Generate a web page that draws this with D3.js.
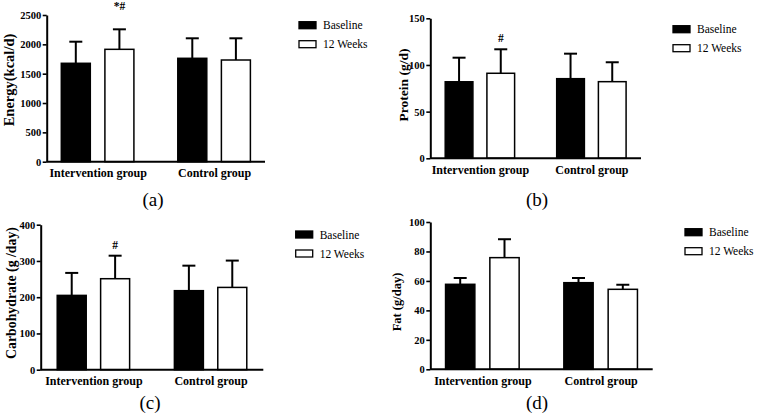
<!DOCTYPE html>
<html><head><meta charset="utf-8">
<script src="https://cdn.jsdelivr.net/npm/d3@7"></script>
<style>body{margin:0;background:#fff}svg{display:block}</style>
</head><body><svg id="c" width="762" height="414"></svg>
<script>
const categories = ["Intervention group", "Control group"];
const seriesNames = ["Baseline", "12 Weeks"];

const energyBaseline = [1677, 1762], energyBaselineSD = [368, 341];
const energyWeeks = [1915, 1733], energyWeeksSD = [341, 370];
const energyTicks = [0, 500, 1000, 1500, 2000, 2500];

const proteinBaseline = [82.0, 85.3], proteinBaselineSD = [25.8, 26.8];
const proteinWeeks = [91.1, 82.1], proteinWeeksSD = [25.7, 20.8];
const proteinTicks = [0, 50, 100, 150];

const carbBaseline = [205, 218], carbBaselineSD = [62, 69];
const carbWeeks = [251, 227], carbWeeksSD = [63.5, 74];
const carbTicks = [0, 100, 200, 300, 400];

const fatBaseline = [57.7, 58.8], fatBaselineSD = [4.3, 3.2];
const fatWeeks = [75.8, 54.3], fatWeeksSD = [12.5, 3.1];
const fatTicks = [0, 20, 40, 60, 80, 100];

const panels = [
  {label:"(a)", ylab:"Energy(kcal/d)", ticks:energyTicks, base:energyBaseline, baseSD:energyBaselineSD, wk:energyWeeks, wkSD:energyWeeksSD, mark:"*#", markOff:19,
   L:46.7, R:265, T:15, B:161.7, pad:0.437, inner:72.6, bw:29, ylx:9, yly:80, ylfs:14.5, legX:299, legY:21.7, labX:153, labY:206},
  {label:"(b)", ylab:"Protein (g/d)", ticks:proteinTicks, base:proteinBaseline, baseSD:proteinBaselineSD, wk:proteinWeeks, wkSD:proteinWeeksSD, mark:"#", markOff:7.6,
   L:430.3, R:641, T:18.3, B:158.3, pad:0.445, inner:69.4, bw:27.7, ylx:403, yly:85, ylfs:13.5, legX:673, legY:25.7, labX:537, labY:206},
  {label:"(c)", ylab:"Carbohydrate (g /day)", ticks:carbTicks, base:carbBaseline, baseSD:carbBaselineSD, wk:carbWeeks, wkSD:carbWeeksSD, mark:"#", markOff:7,
   L:40.7, R:263.3, T:224.7, B:369.7, pad:0.45, inner:72.4, bw:29, ylx:11, yly:293, ylfs:13.8, legX:295.7, legY:231, labX:150, labY:409},
  {label:"(d)", ylab:"Fat (g/day)", ticks:fatTicks, base:fatBaseline, baseSD:fatBaselineSD, wk:fatWeeks, wkSD:fatWeeksSD, mark:null, markOff:0,
   L:430.3, R:652.7, T:222, B:369.3, pad:0.44, inner:73.6, bw:29.3, ylx:397, yly:302, ylfs:12.5, legX:685, legY:228.7, labX:537, labY:409}
];

const svg = d3.select("#c");
const serif = "'Liberation Serif','Times New Roman',serif";

panels.forEach(p => {
  const g = svg.append("g");
  const y = d3.scaleLinear().domain([0, d3.max(p.ticks)]).range([p.B, p.T]);
  const x = d3.scalePoint().domain(categories).range([p.L, p.R]).padding(p.pad);
  const step = p.inner - p.bw;
  const pi = 1 - p.bw / step;
  const xi = d3.scaleBand().domain(seriesNames).range([-p.inner/2, p.inner/2]).paddingInner(pi).paddingOuter(0);

  const rows = [];
  categories.forEach((c, i) => {
    rows.push({cat:c, s:"Baseline", v:p.base[i], sd:p.baseSD[i]});
    rows.push({cat:c, s:"12 Weeks", v:p.wk[i], sd:p.wkSD[i]});
  });

  const eb = g.append("g").attr("stroke", "#000").attr("stroke-width", 2).attr("fill", "none");
  rows.forEach(r => {
    const cx = x(r.cat) + xi(r.s) + xi.bandwidth()/2;
    eb.append("line").attr("x1", cx).attr("x2", cx).attr("y1", y(r.v)).attr("y2", y(r.v + r.sd));
    eb.append("line").attr("x1", cx - 6.5).attr("x2", cx + 6.5).attr("y1", y(r.v + r.sd)).attr("y2", y(r.v + r.sd));
  });

  g.append("g").selectAll("rect").data(rows).join("rect")
    .attr("x", d => x(d.cat) + xi(d.s))
    .attr("width", xi.bandwidth())
    .attr("y", d => y(d.v))
    .attr("height", d => y(0) - y(d.v))
    .attr("fill", d => d.s === "Baseline" ? "#000" : "#fff")
    .attr("stroke", "#000").attr("stroke-width", 1.5);

  const ya = g.append("g").attr("transform", `translate(${p.L},0)`)
    .call(d3.axisLeft(y).tickValues(p.ticks).tickFormat(d3.format("d")).tickSize(4).tickSizeOuter(0).tickPadding(1.5));
  ya.select(".domain").attr("stroke-width", 2);
  ya.selectAll(".tick line").attr("stroke-width", 1.6);
  ya.selectAll(".tick text").attr("font-family", serif).attr("font-weight", "bold").attr("font-size", 10.5).attr("fill", "#000");

  const xa = g.append("g").attr("transform", `translate(0,${p.B})`)
    .call(d3.axisBottom(x).tickSize(0).tickPadding(7));
  xa.select(".domain").attr("stroke-width", 2).attr("d", `M${p.L},0H${p.R}`);
  xa.selectAll(".tick text").attr("font-family", serif).attr("font-weight", "bold").attr("font-size", 12).attr("fill", "#000");

  g.append("text").attr("transform", `translate(${p.ylx},${p.yly}) rotate(-90)`)
    .attr("text-anchor", "middle").attr("dominant-baseline", "central")
    .attr("font-family", serif).attr("font-weight", "bold").attr("font-size", p.ylfs).text(p.ylab);

  if (p.mark) {
    const cx = x(categories[0]) + xi("12 Weeks") + xi.bandwidth()/2;
    g.append("text").attr("x", cx).attr("y", y(p.wk[0] + p.wkSD[0]) - p.markOff)
      .attr("text-anchor", "middle").attr("font-family", serif).attr("font-weight", "bold")
      .attr("font-size", 11.5).text(p.mark);
  }

  seriesNames.forEach((s, i) => {
    g.append("rect").attr("x", p.legX).attr("y", p.legY + i*19).attr("width", 17).attr("height", 7)
      .attr("fill", i === 0 ? "#000" : "#fff").attr("stroke", "#000").attr("stroke-width", 1.3);
    g.append("text").attr("x", p.legX + 24).attr("y", p.legY + i*19 + 3.5)
      .attr("dominant-baseline", "central").attr("font-family", serif).attr("font-size", 11.5).text(s);
  });

  g.append("text").attr("x", p.labX).attr("y", p.labY).attr("text-anchor", "middle")
    .attr("font-family", serif).attr("font-size", 19).text(p.label);
});
</script></body></html>
